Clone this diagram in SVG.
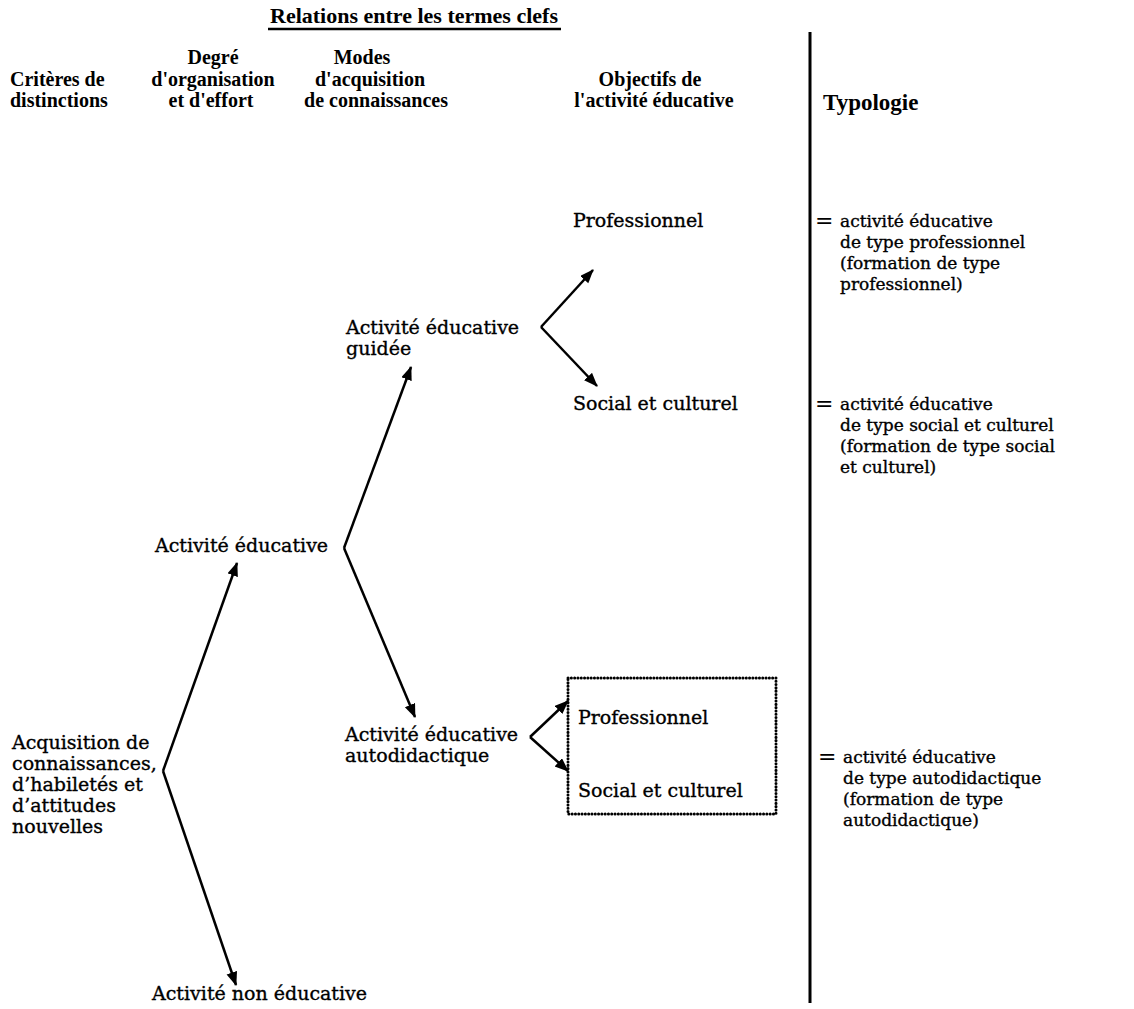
<svg xmlns="http://www.w3.org/2000/svg" width="1134" height="1009" viewBox="0 0 1134 1009">
<defs>
<marker id="ah" markerUnits="userSpaceOnUse" markerWidth="15" markerHeight="12" refX="13" refY="5.5" orient="auto">
<path d="M0,0 L14,5.5 L0,11 Z" fill="#000"/>
</marker>
<style>
.h{font-family:"Liberation Serif","Times New Roman",serif;font-weight:bold;font-size:20px;fill:#000}
.t{font-family:"DejaVu Serif","Liberation Serif",serif;font-size:19px;fill:#000;stroke:#000;stroke-width:0.35}
.r{font-size:17px}
.eq{font-family:"DejaVu Serif","Liberation Serif",serif;font-size:22px;fill:#000}
.c{text-anchor:middle}
.ln{stroke:#000;stroke-width:2.5;fill:none;stroke-linejoin:miter}
.ar{marker-end:url(#ah)}
</style>
</defs>
<rect width="1134" height="1009" fill="#fff"/>

<g id="title">
<text class="h c" x="414" y="23" style="font-size:22px">Relations entre les termes clefs</text>
<line x1="268" y1="29" x2="561" y2="29" stroke="#000" stroke-width="2.5"/>
</g>

<g id="headers">
<text class="h" x="10" y="86">Critères de</text>
<text class="h" x="10" y="107">distinctions</text>
<text class="h c" x="213" y="64">Degré</text>
<text class="h c" x="213" y="86">d'organisation</text>
<text class="h c" x="211" y="107">et d'effort</text>
<text class="h c" x="362" y="64">Modes</text>
<text class="h c" x="370" y="86">d'acquisition</text>
<text class="h c" x="376" y="107">de connaissances</text>
<text class="h c" x="650" y="86">Objectifs de</text>
<text class="h c" x="654" y="107">l'activité éducative</text>
<text class="h" x="823" y="110" style="font-size:23px">Typologie</text>
</g>

<g id="divider">
<line x1="810" y1="32" x2="810" y2="1003" stroke="#000" stroke-width="3"/>
</g>

<g id="n-acquisition">
<text class="t" x="12" y="749">Acquisition de</text>
<text class="t" x="12" y="770">connaissances,</text>
<text class="t" x="12" y="791">d’habiletés et</text>
<text class="t" x="12" y="812">d’attitudes</text>
<text class="t" x="12" y="833">nouvelles</text>
</g>
<g id="n-educ">
<text class="t" x="155" y="552">Activité éducative</text>
</g>
<g id="n-noneduc">
<text class="t" x="152" y="1000">Activité non éducative</text>
</g>
<g id="n-guidee">
<text class="t" x="346" y="334">Activité éducative</text>
<text class="t" x="346" y="355">guidée</text>
</g>
<g id="n-auto">
<text class="t" x="345" y="741">Activité éducative</text>
<text class="t" x="345" y="762">autodidactique</text>
</g>
<g id="n-prof1">
<text class="t" x="573" y="227">Professionnel</text>
</g>
<g id="n-soc1">
<text class="t" x="573" y="410">Social et culturel</text>
</g>
<g id="n-box">
<rect x="568" y="678" width="208" height="136" fill="none" stroke="#000" stroke-width="3" stroke-dasharray="0.1 3.2" stroke-linecap="round"/>
<text class="t" x="578" y="724">Professionnel</text>
<text class="t" x="578" y="797">Social et culturel</text>
</g>
<g id="typ1">
<text class="eq" x="815" y="228">=</text>
<text class="t r" x="840" y="227">activité éducative</text>
<text class="t r" x="840" y="248">de type professionnel</text>
<text class="t r" x="840" y="269">(formation de type</text>
<text class="t r" x="840" y="290">professionnel)</text>
</g>
<g id="typ2">
<text class="eq" x="815" y="411">=</text>
<text class="t r" x="840" y="410">activité éducative</text>
<text class="t r" x="840" y="431">de type social et culturel</text>
<text class="t r" x="840" y="452">(formation de type social</text>
<text class="t r" x="840" y="473">et culturel)</text>
</g>
<g id="typ3">
<text class="eq" x="818" y="764">=</text>
<text class="t r" x="843" y="763">activité éducative</text>
<text class="t r" x="843" y="784">de type autodidactique</text>
<text class="t r" x="843" y="805">(formation de type</text>
<text class="t r" x="843" y="826">autodidactique)</text>
</g>

<g id="connectors">
<line class="ln ar" x1="163" y1="771" x2="237" y2="563"/>
<line class="ln ar" x1="163" y1="771" x2="236" y2="985"/>
<line class="ln ar" x1="344" y1="548" x2="411" y2="367"/>
<line class="ln ar" x1="344" y1="548" x2="415" y2="717"/>
<line class="ln ar" x1="541" y1="327" x2="593" y2="270"/>
<line class="ln ar" x1="541" y1="327" x2="597" y2="386"/>
<line class="ln ar" x1="530" y1="737" x2="568" y2="701"/>
<line class="ln ar" x1="530" y1="737" x2="568" y2="771"/>
</g>
</svg>
